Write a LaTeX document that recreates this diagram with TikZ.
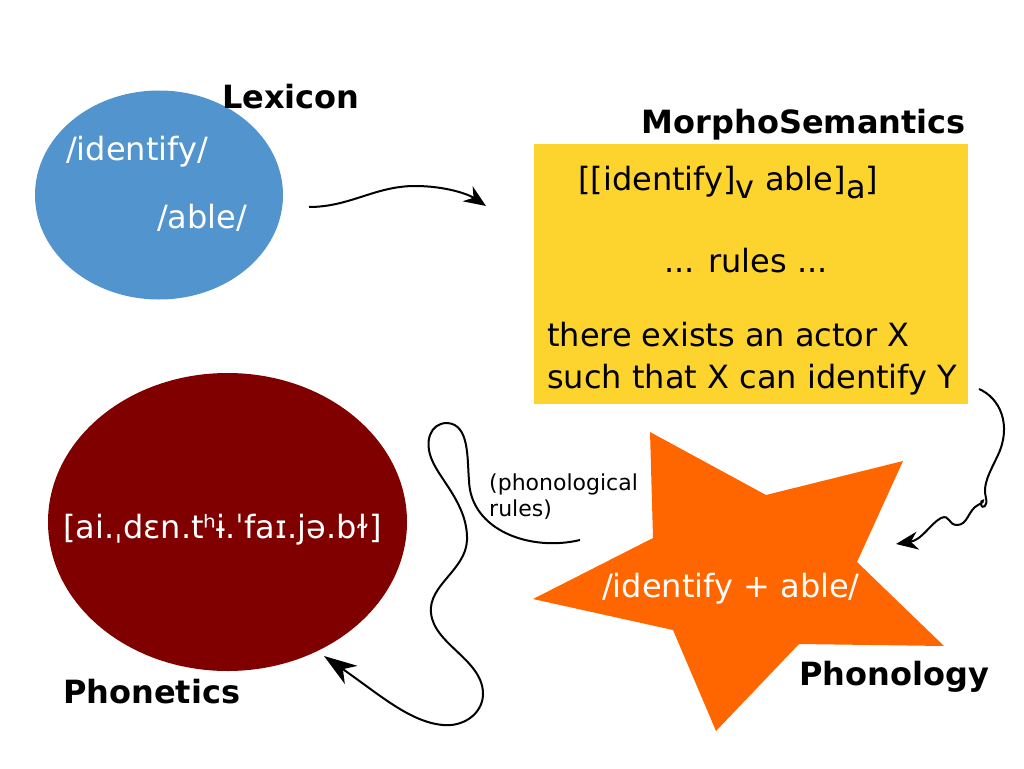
\documentclass[tikz,border=0pt]{standalone}
\usepackage{fontspec}
\setmainfont{DejaVu Sans}
\usetikzlibrary{shapes.geometric,arrows.meta}
\definecolor{lexblue}{HTML}{5294CE}
\definecolor{phred}{HTML}{800000}
\definecolor{msyellow}{HTML}{FDD32E}
\definecolor{starorange}{HTML}{FF6600}
\tikzset{
  txt/.style={anchor=base west, inner sep=0pt, font=\fontsize{32}{38}\selectfont},
  wtxt/.style={txt, text=white},
  lbl/.style={anchor=base west, inner sep=0pt, font=\fontsize{32}{38}\selectfont\bfseries},
  small/.style={anchor=base west, inner sep=0pt, font=\fontsize{22}{26}\selectfont, align=left},
  conn/.style={line width=2pt, -{Stealth[length=22pt,width=18pt,inset=7pt]}},
  bigconn/.style={line width=2pt, -{Stealth[length=33pt,width=22pt,inset=10pt]}},
}
\begin{document}
\begin{tikzpicture}[x=1pt,y=-1pt]
\useasboundingbox (0,0) rectangle (1024,768);
% shapes
\node[ellipse, fill=lexblue, minimum width=248pt, minimum height=209pt, inner sep=0pt] (lex) at (159,195) {};
\node[rectangle, fill=msyellow, minimum width=434pt, minimum height=260pt, inner sep=0pt] (ms) at (751,274) {};
\node[ellipse, fill=phred, minimum width=359pt, minimum height=298pt, inner sep=0pt] (phon) at (227.5,522) {};
\fill[starorange] (650,432) -- (766,495) -- (903,461) -- (857,562) -- (944,646) -- (799,644) -- (716,731) -- (673,630) -- (533,599) -- (653,538) -- cycle;
\coordinate (star) at (740,590);
% labels
\node[lbl] (lexlbl) at (222,108) {Lexicon};
\node[lbl, anchor=base east] (mslbl) at (966,133) {MorphoSemantics};
\node[lbl] (phonlbl) at (63,703) {Phonetics};
\node[lbl] (phonollbl) at (799,685) {Phonology};
% texts
\node[wtxt] (t1) at (66,160) {/identify/};
\node[wtxt] (t2) at (157,228) {/able/};
\node[txt] (t3) at (578,190) {[[identify]\raisebox{-8pt}{v} able]\raisebox{-8pt}{a}]};
\node[txt] (t4) at (664,272) {... rules ...};
\node[txt] (t5) at (547,346) {there exists an actor X};
\node[txt] (t6) at (547,388) {such that X can identify Y};
\node[wtxt] (t7) at (63,538) {[ai.ˌdɛn.tʰɨ.ˈfaɪ.jə.bɫ]};
\node[wtxt] (t8) at (602,597) {/identify + able/};
\node[small] (t9) at (489,490) {(phonological};
\node[small] (t10) at (489,516) {rules)};
% connectors
\coordinate (a1) at (309,207);
\coordinate (a2) at (486,206);
\draw[conn] (a1) .. controls (350,207) and (375,186) .. (415,186) .. controls (445,186) and (468,194) .. (a2);
\coordinate (b1) at (979,389);
\coordinate (b2) at (896,544);
\draw[conn] (b1) .. controls (1000,398) and (1012,425) .. (998,455)
  .. controls (990,472) and (982,485) .. (986,498)
  .. controls (988,506) and (982,510) .. (981,504)
  .. controls (980,499) and (988,500) .. (978,505)
  .. controls (968,510) and (968,525) .. (957,525)
  .. controls (948,525) and (950,514) .. (941,518)
  .. controls (930,524) and (922,540) .. (b2);
\coordinate (c1) at (580,540);
\coordinate (c2) at (324,656);
\draw[bigconn] (c1) .. controls (530,552) and (470,530) .. (469,480)
  .. controls (467,460) and (470,424) .. (447,423)
  .. controls (430,423) and (424,442) .. (432,460)
  .. controls (440,480) and (468,505) .. (467,540)
  .. controls (466,570) and (428,585) .. (431,613)
  .. controls (434,645) and (484,660) .. (483,695)
  .. controls (482,715) and (462,727) .. (443,725)
  .. controls (410,722) and (380,695) .. (c2);
\end{tikzpicture}
\end{document}
